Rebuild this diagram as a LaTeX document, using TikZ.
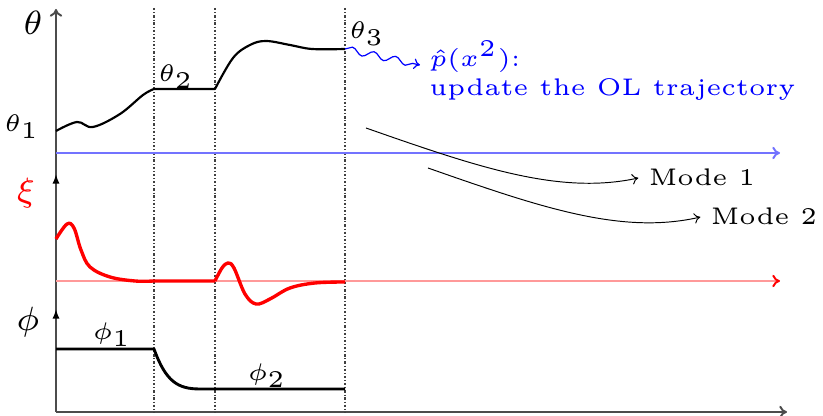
\documentclass[tikz,border=0pt]{standalone}
\usepackage{amsmath,amssymb}
\usetikzlibrary{positioning,arrows.meta,decorations.pathmorphing}
\tikzset{
  tlaxis/.style={draw=black!70, line width=0.4pt},
  tlguide/.style={draw=black!75, line width=0.25pt,
                  dash pattern=on 0.5pt off 0.4pt on 0.2pt off 0.4pt},
  tltraj/.style={line width=0.45pt, line join=round},
  tllab/.style={font=\tiny, inner sep=0.5pt},
  tlaxlab/.style={font=\scriptsize, inner sep=0pt},
  tlmode/.style={draw=black, line width=0.2pt, -{To[length=1.3pt,width=2.2pt]},
                 shorten >=1pt},
}
\newcommand{\tlBaseBlue}{blue!55}
\newcommand{\tlBaseRed}{red!40}

\begin{document}
\begin{tikzpicture}[x=0.208pt, y=-0.208pt]
  \useasboundingbox (0,0) rectangle (823,416);
  % axes
  \coordinate (O) at (56,412);
  \coordinate (Otop) at (56,9);
  \coordinate (Oright) at (787,412);
  \draw[tlaxis, -{To[length=1.6pt,width=2.6pt]}] (O) -- (Otop);
  \draw[tlaxis, -{To[length=1.6pt,width=2.6pt]}] (O) -- (Oright);
  \draw[tlaxis, -{Latex[black,length=2pt,width=1.5pt]}] (56,280) -- (56,174);
  \draw[tlaxis, -{Latex[black,length=2pt,width=1.5pt]}] (O) -- (56,309);
  \node[tlaxlab] (thax) at (33,23) {$\theta$};
  \node[tlaxlab, text=red] (xiax) at (26,193) {$\xi$};
  \node[tlaxlab] (phax) at (28,322) {$\phi$};
  % switching instants
  \foreach \tx in {154,215,345}
    \draw[tlguide] (\tx,8) -- (\tx,412);
  % reference lines
  \draw[draw=\tlBaseBlue, line width=0.4pt, -{To[length=1.6pt,width=2.6pt]}] (56,153) -- (780,153);
  \draw[draw=\tlBaseRed, line width=0.4pt, -{To[red,length=1.6pt,width=2.6pt]}] (56,281) -- (780,281);
  % theta
  \draw[tltraj] plot[smooth, tension=0.6] coordinates {(56,131) (77,122) (93,127) (120,114) (143,95) (154,89)}
    -- (215,89)
    plot[smooth, tension=0.6] coordinates {(215,89) (233,58) (250,45) (266,41) (290,45) (312,49) (345,49)};
  \node[tllab] (th1) at (22,127) {$\theta_1$};
  \node[tllab] (th2) at (176,77) {$\theta_2$};
  \node[tllab] (th3) at (367,34) {$\theta_3$};
  % xi
  \draw[red, line width=0.7pt, line join=round]
    plot[smooth, tension=0.6] coordinates {(56,239) (67,224) (74,228) (81,250) (90,267) (110,277) (135,281) (154,281)}
    -- (215,281)
    plot[smooth, tension=0.6] coordinates {(215,281) (222,268) (228,263) (234,268) (245,294) (256,304) (270,299) (290,288) (315,283) (345,282)};
  % phi
  \draw[line width=0.6pt, line join=round] (56,349) -- (154,349)
    .. controls (166,382) and (178,389) .. (200,389) -- (345,389);
  \node[tllab] (ph1) at (112,335) {$\phi_1$};
  \node[tllab] (ph2) at (267,376) {$\phi_2$};
  % open-loop update
  \coordinate (th3end) at (345,49);
  \node[tllab, text=blue, align=left, anchor=west] (ol) at (426,71)
    {$\hat{p}(x^2)$:\\update the OL trajectory};
  \draw[blue, line width=0.25pt, decorate,
        decoration={snake, amplitude=0.7pt, segment length=4.6pt, post length=1.2pt},
        -{To[length=1.3pt,width=2.2pt]}] (th3end) -- (420,65);
  % modes
  \coordinate (m1start) at (366,128);
  \coordinate (m2start) at (428,168);
  \node[tllab, anchor=west, inner sep=1pt] (mode1) at (643,177) {Mode 1};
  \node[tllab, anchor=west, inner sep=1pt] (mode2) at (705,216) {Mode 2};
  \draw[tlmode] (m1start) .. controls (480,168) and (560,195) .. (mode1.west);
  \draw[tlmode] (m2start) .. controls (542,208) and (622,235) .. (mode2.west);
\end{tikzpicture}
\end{document}
